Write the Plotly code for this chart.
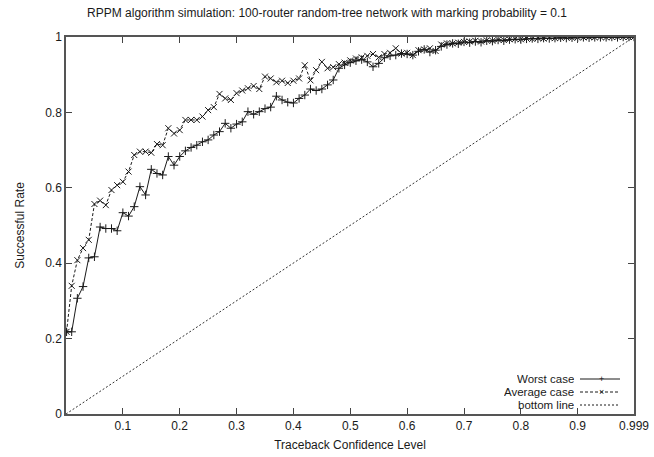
import plotly.graph_objects as go

# ---------------- data ----------------
confidence = [0.001] + [round(0.01 * i, 2) for i in range(1, 100)] + [0.999]

worst_case = [
    0.218, 0.218, 0.307, 0.338, 0.414, 0.417, 0.496, 0.492, 0.492, 0.486,
    0.534, 0.525, 0.550, 0.603, 0.581, 0.649, 0.638, 0.634, 0.683, 0.660,
    0.683, 0.698, 0.707, 0.713, 0.722, 0.727, 0.740, 0.749, 0.771, 0.758,
    0.769, 0.775, 0.802, 0.795, 0.802, 0.810, 0.814, 0.843, 0.833, 0.827,
    0.825, 0.837, 0.846, 0.862, 0.858, 0.862, 0.873, 0.886, 0.917, 0.926,
    0.932, 0.937, 0.940, 0.934, 0.921, 0.930, 0.945, 0.950, 0.952, 0.956,
    0.955, 0.952, 0.962, 0.967, 0.960, 0.965, 0.975, 0.980, 0.983, 0.982,
    0.987, 0.985, 0.988, 0.986, 0.990, 0.989, 0.992, 0.990, 0.993, 0.994,
    0.993, 0.995, 0.996, 0.995, 0.997, 0.996, 0.997, 0.998, 0.997, 0.998,
    0.998, 0.999, 0.998, 0.999, 0.999, 0.999, 1.000, 0.999, 1.000, 1.000,
    1.000,
]

average_case = [
    0.218, 0.340, 0.408, 0.440, 0.462, 0.557, 0.566, 0.554, 0.594, 0.607,
    0.616, 0.643, 0.687, 0.696, 0.696, 0.693, 0.716, 0.713, 0.758, 0.744,
    0.753, 0.780, 0.780, 0.780, 0.789, 0.806, 0.814, 0.849, 0.837, 0.833,
    0.851, 0.858, 0.864, 0.870, 0.862, 0.895, 0.890, 0.880, 0.884, 0.878,
    0.884, 0.890, 0.925, 0.885, 0.912, 0.934, 0.917, 0.920, 0.928, 0.932,
    0.938, 0.943, 0.946, 0.950, 0.955, 0.946, 0.955, 0.958, 0.970, 0.956,
    0.958, 0.952, 0.965, 0.967, 0.970, 0.963, 0.980, 0.983, 0.983, 0.985,
    0.987, 0.988, 0.990, 0.988, 0.991, 0.990, 0.993, 0.992, 0.994, 0.995,
    0.994, 0.996, 0.995, 0.997, 0.996, 0.998, 0.997, 0.998, 0.999, 0.998,
    0.999, 0.999, 1.000, 0.999, 1.000, 0.999, 1.000, 1.000, 1.000, 1.000,
    1.000,
]

bottom_x = [0.0, 0.999]
bottom_y = [0.0, 1.0]

x_tick_vals = [0.1, 0.2, 0.3, 0.4, 0.5, 0.6, 0.7, 0.8, 0.9, 0.999]
x_tick_text = ["0.1", "0.2", "0.3", "0.4", "0.5", "0.6", "0.7", "0.8", "0.9", "0.999"]
y_tick_vals = [0, 0.2, 0.4, 0.6, 0.8, 1]
y_tick_text = ["0", "0.2", "0.4", "0.6", "0.8", "1"]

series_names = ["Worst case", "Average case", "bottom line"]

# ---------------- figure ----------------
FONT = "Liberation Sans, Arial, Helvetica, sans-serif"
INK = "#1a1a1a"

fig = go.Figure()
fig.add_trace(go.Scatter(
    x=confidence, y=worst_case, name=series_names[0], mode="lines+markers",
    line=dict(color=INK, width=1),
    marker=dict(symbol="cross-thin", size=6, line=dict(color=INK, width=1), color=INK),
    showlegend=False,
))
fig.add_trace(go.Scatter(
    x=confidence, y=average_case, name=series_names[1], mode="lines+markers",
    line=dict(color=INK, width=1, dash="3px,2px"),
    marker=dict(symbol="x-thin", size=6, line=dict(color=INK, width=1), color=INK),
    showlegend=False,
))
fig.add_trace(go.Scatter(
    x=bottom_x, y=bottom_y, name=series_names[2], mode="lines",
    line=dict(color="#333333", width=1, dash="2px,2px"),
    showlegend=False,
))

axis_common = dict(
    showgrid=False, zeroline=False, ticks="inside", ticklen=6, tickwidth=1,
    tickcolor="#444444", showline=True, linecolor="#555555", linewidth=1.5,
    mirror="allticks", tickfont=dict(family=FONT, size=12, color=INK),
    automargin=False,
)

fig.update_layout(
    width=654, height=457,
    paper_bgcolor="white", plot_bgcolor="white",
    margin=dict(l=66, r=20, t=37, b=43, autoexpand=False),
    title=dict(
        text="RPPM algorithm simulation: 100-router random-tree network with marking probability = 0.1",
        x=0.5, xanchor="center", y=1 - 13 / 457, yanchor="middle",
        font=dict(family=FONT, size=12, color=INK),
    ),
    xaxis=dict(
        range=[0, 0.999], tickvals=x_tick_vals, ticktext=x_tick_text,
        title=dict(text="Traceback Confidence Level", font=dict(family=FONT, size=12, color=INK), standoff=8),
        **axis_common,
    ),
    yaxis=dict(
        range=[0, 1], tickvals=y_tick_vals, ticktext=y_tick_text,
        title=dict(text="Successful Rate", font=dict(family=FONT, size=12, color=INK), standoff=18),
        **axis_common,
    ),
    showlegend=False,
)

# ---------------- gnuplot-style key (text, then sample) ----------------
def px_x(p):
    return (p - 66) / (634 - 66)

def px_y(p):
    return (414 - p) / (414 - 37)

key_rows = [379, 392, 405]
key_dash = ["solid", "3px,2px", "2px,2px"]
key_glyph = ["+", "×", None]
for name, row, dash, glyph in zip(series_names, key_rows, key_dash, key_glyph):
    fig.add_annotation(
        x=px_x(575), y=px_y(row), xref="paper", yref="paper",
        text=name, showarrow=False, xanchor="right", yanchor="middle",
        font=dict(family=FONT, size=11.5, color=INK), borderpad=0, height=12,
    )
    fig.add_shape(
        type="line", xref="paper", yref="paper",
        x0=px_x(580), x1=px_x(620), y0=px_y(row), y1=px_y(row),
        line=dict(color=INK, width=1, dash=dash),
    )
    if glyph:
        fig.add_annotation(
            x=px_x(601), y=px_y(row), xref="paper", yref="paper",
            text=glyph, showarrow=False, xanchor="center", yanchor="middle",
            font=dict(family=FONT, size=9, color=INK), borderpad=0,
        )

fig.write_html(
    "out.html",
    config={"displayModeBar": False},
    post_script="document.body.style.margin='0';",
)
